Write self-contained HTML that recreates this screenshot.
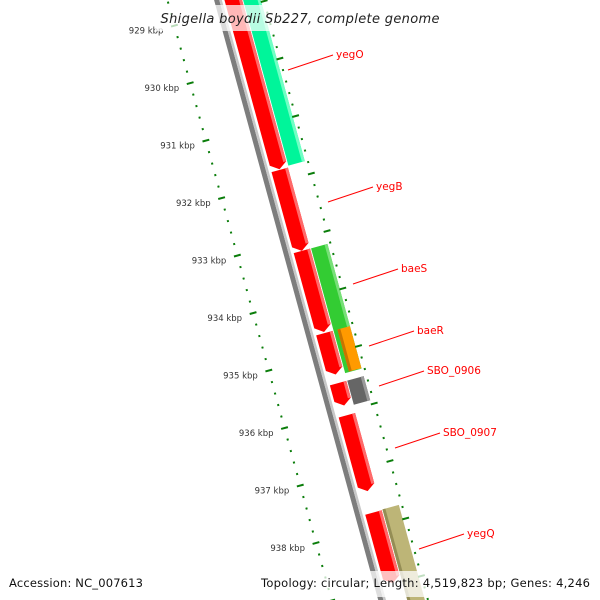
<!DOCTYPE html>
<html><head><meta charset="utf-8"><style>
html,body{margin:0;padding:0;background:#fff;width:600px;height:600px;overflow:hidden;}
svg{display:block;overflow:hidden;}
</style></head><body>
<svg id="map" width="600" height="600" viewBox="0 0 600 600" xmlns="http://www.w3.org/2000/svg">
<rect x="0" y="0" width="600" height="600" fill="#fff"/>
<g id="ring" transform="translate(212,0) rotate(-15.3)"></g>
<g id="labels"></g>
<rect x="155" y="5" width="290" height="26" fill="#fff" fill-opacity="0.72"/>
<text x="300" y="23" text-anchor="middle" font-family="DejaVu Sans, Liberation Sans, sans-serif" font-style="italic" font-size="13" fill="#222" textLength="279">Shigella boydii Sb227, complete genome</text>
<rect x="0" y="571" width="600" height="26" fill="#fff" fill-opacity="0.75"/>
<text x="9" y="587" font-family="DejaVu Sans, Liberation Sans, sans-serif" font-size="11.5" fill="#111" textLength="134">Accession: NC_007613</text>
<text x="590" y="587" text-anchor="end" font-family="DejaVu Sans, Liberation Sans, sans-serif" font-size="11.5" fill="#111" textLength="329">Topology: circular; Length: 4,519,823 bp; Genes: 4,246</text>
</svg>
<script>
// feature data (kbp)
const featNames  = ['f1','f2','f3','f4','f5','f6','f7','yegO','baeS','baeR','SBO_0906','yegQ'];
const featStart  = [927.5,931.80,933.21,934.64,935.51,936.07,937.76,927.5,933.21,934.64,935.51,937.75];
const featEnd    = [931.79,933.21,934.62,935.36,935.90,937.39,938.99,931.77,935.38,935.37,935.93,939.6];
const featTrack  = ['inner','inner','inner','inner','inner','inner','inner','outer','outer','orange','outer','outer'];
const featColor  = ['red','red','red','red','red','red','red','teal','green','orange','gray','khaki'];
const tickStart = 927.6, tickEnd = 939.8;
const kbpLabels = [929,930,931,932,933,934,935,936,937,938];
const geneLabels = ['yegO','yegB','baeS','baeR','SBO_0906','SBO_0907','yegQ'];
const geneLabelX = [336,376,401,417,427,443,467];
const geneLabelY = [58,190,272,334,374,436,537];

const NS='http://www.w3.org/2000/svg';
const ring=document.getElementById('ring');
const labels=document.getElementById('labels');
const TH=15.3*Math.PI/180, S=Math.sin(TH), C=Math.cos(TH);
function u(k){return 193.6+59.6*(k-932);}
function toScreen(v,uu){return [212+uu*S+v*C, uu*C - v*S];}
function mk(tag,attrs,parent){const e=document.createElementNS(NS,tag);for(const a in attrs)e.setAttribute(a,attrs[a]);parent.appendChild(e);return e;}
const palette={red:['#ff0000','#ff6a6a',null],teal:['#00f59a','#70ffc4',null],green:['#33cc33','#77e077',null],
 orange:['#ff9a00',null,'#c87400'],gray:['#666666','#9a9a9a',null],khaki:['#bdb577',null,'#948d55']};
const tracks={inner:[12,29],outer:[30,47],orange:[34,47]};

// backbone
const bb1=u(tickStart-2), bb2=u(tickEnd);
const bbA=mk('rect',{x:2,y:bb1,width:5,height:bb2-bb1,fill:'#7d7d7d'},ring);


const bbB=mk('rect',{x:7,y:bb1,width:2.5,height:bb2-bb1,fill:'#c8c8c8'},ring);



// features
for(let i=0;i<featNames.length;i++){
  const [v0,v1]=tracks[featTrack[i]];
  const u1=u(featStart[i]), u2=u(featEnd[i]);
  const col=palette[featColor[i]];
  const isArrow=featColor[i]==='red';
  const h=isArrow?6:0, vm=(v0+v1)/2;
  const pts=isArrow?`${v0},${u1} ${v1},${u1} ${v1},${u2-h} ${vm},${u2} ${v0},${u2-h}`:`${v0},${u1} ${v1},${u1} ${v1},${u2} ${v0},${u2}`;
  const p=mk('polygon',{points:pts,fill:col[0]},ring);
  
  
  if(col[1]){
    const s=mk('rect',{x:v1-3,y:u1,width:3,height:(u2-h)-u1,fill:col[1]},ring);
    
    
  }
  if(col[2]){
    const s=mk('rect',{x:v0,y:u1,width:3,height:u2-u1,fill:col[2]},ring);
    
    
  }
}

// ticks
const nT=Math.round((tickEnd-tickStart)/0.2);
for(let j=0;j<=nT;j++){
  const k=tickStart+j*0.2, uu=u(k);
  const major=Math.abs(k-Math.round(k))<0.01;
  [[-43,'left'],[50,'right']].forEach(([vc,side])=>{
    const r=major?mk('rect',{x:vc-3.5,y:uu-1,width:7,height:2,fill:'#0a7d0a'},ring)
                 :mk('rect',{x:vc-1,y:uu-1,width:2,height:2,fill:'#0a7d0a'},ring);
    
    
  });
}

// kbp labels
kbpLabels.forEach(k=>{
  const [x,y]=toScreen(-43,u(k));
  const t=mk('text',{x:x-11,y:y+8,'text-anchor':'end','font-family':'DejaVu Sans, Liberation Sans, sans-serif','font-size':'8.5',fill:'#333'},labels);
  t.textContent=k+' kbp';
  
  
});

// gene labels
for(let i=0;i<geneLabels.length;i++){
  const x=geneLabelX[i], y=geneLabelY[i];
  const l=mk('line',{x1:x-48,y1:y+12,x2:x-3,y2:y-3,stroke:'#ff0000','stroke-width':1},labels);
  
  
  const t=mk('text',{x:x,y:y,'font-family':'DejaVu Sans, Liberation Sans, sans-serif','font-size':'10.5',fill:'#ff0000'},labels);
  t.textContent=geneLabels[i];
  
  
}
</script>
</body></html>
